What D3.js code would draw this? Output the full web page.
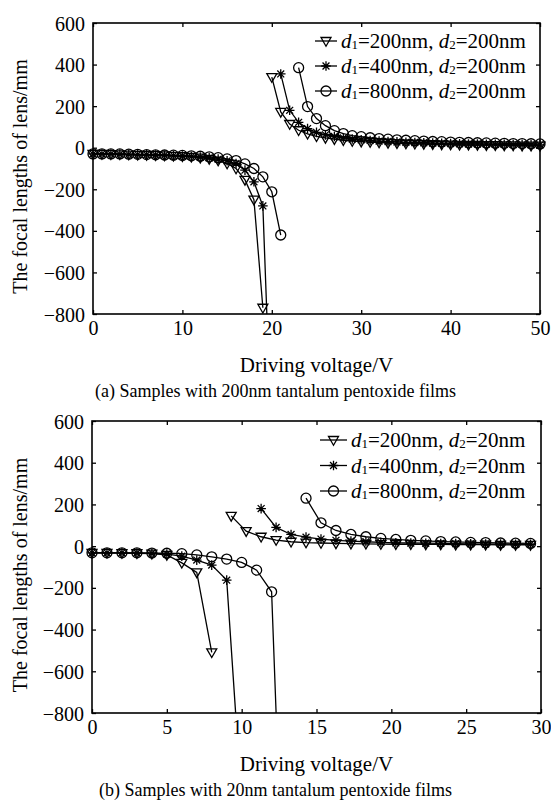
<!DOCTYPE html>
<html>
<head>
<meta charset="utf-8">
<script src="https://cdn.jsdelivr.net/npm/d3@7"></script>
<style>
  html, body { margin: 0; padding: 0; background: #fff; }
  svg { display: block; }
  text { font-family: "Liberation Serif", "Times New Roman", serif; fill: #000; }
</style>
</head>
<body>
<svg id="chart" width="551" height="807"></svg>
<script>
// ---- panel (a): 200nm films ----
const topNegVolts = [0,1,2,3,4,5,6,7,8,9,10,11,12,13,14,15,16,17,18,19,20,21];
const topTriNeg  = [-30,-30,-31,-32,-33,-34,-35,-36,-37,-39,-41,-44,-48,-54,-62,-76,-100,-155,-250,-770];
const topStarNeg = [-30,-30,-30,-31,-32,-33,-34,-35,-36,-38,-40,-42,-45,-49,-55,-63,-76,-108,-164,-280,-1450];
const topCircNeg = [-30,-30,-30,-30,-31,-32,-33,-34,-35,-36,-37,-39,-41,-44,-48,-54,-62,-78,-100,-140,-212,-420];

const topPosVolts = [20,21,22,23,24,25,26,27,28,29,30,31,32,33,34,35,36,37,38,39,40,41,42,43,44,45,46,47,48,49,50];
const topTriPos  = [340,172,114,84,67,55,47,41,36,32,29,27,25,23,21,20,19,18,17,16,15,14,14,13,12,12,11,11,10,10,10];
const topStarPos = [355,180,122,92,74,62,54,47,42,38,35,32,30,28,26,25,24,22,21,20,19,18,18,17,16,16,15,15,14,14];
const topCircPos = [385,198,140,106,82,68,58,53,48,44,41,38,36,34,32,30,29,27,26,25,24,23,22,21,20,20,19,18];

// ---- panel (b): 20nm films ----
const botNegVolts = [0,1,2,3,4,5,6,7,8,9,10,11,12,13];
const botTriNeg  = [-32,-32,-33,-34,-36,-42,-80,-126,-509];
const botStarNeg = [-32,-32,-32,-33,-34,-38,-48,-67,-91,-163,-1230];
const botCircNeg = [-32,-32,-32,-32,-33,-34,-36,-42,-51,-62,-78,-115,-219,-2150];

const botPosVolts = [9.3,10.3,11.3,12.3,13.3,14.3,15.3,16.3,17.3,18.3,19.3,20.3,21.3,22.3,23.3,24.3,25.3,26.3,27.3,28.3,29.3];
const botTriPos  = [145,72,45,29,21,17,15,13,12,11,10,9,9,8,8,7,7,7,6,6,6];
const botStarPos = [180,90,56,43,34,28,24,21,18,16,15,14,13,12,11,10,10,9,9];
const botCircPos = [230,112,75,56,45,37,32,28,25,22,20,18,17,15,14,13];

const yTickValues = [-800,-600,-400,-200,0,200,400,600];
const topXTicks = [0,10,20,30,40,50];
const botXTicks = [0,5,10,15,20,25,30];

function pairs(volts, values) {
  return values.map((v, i) => [volts[i], v]);
}
function pairsFrom(volts, start, values) {
  const i0 = volts.indexOf(start);
  return values.map((v, i) => [volts[i0 + i], v]);
}

const panels = [
  {
    id: 'a',
    box: { left: 93, right: 540, top: 23, bottom: 314 },
    xDomain: [0, 50], xTicks: topXTicks,
    caption: '(a) Samples with 200nm tantalum pentoxide films',
    d2: '200nm',
    legend: { x1: 315, x2: 337, tx: 341, y0: 41, dy: 25 },
    series: [
      { kind: 'tri',  d1: '200nm', parts: [pairs(topNegVolts, topTriNeg),  pairsFrom(topPosVolts, 20, topTriPos)] },
      { kind: 'star', d1: '400nm', parts: [pairs(topNegVolts, topStarNeg), pairsFrom(topPosVolts, 21, topStarPos)] },
      { kind: 'circ', d1: '800nm', parts: [pairs(topNegVolts, topCircNeg), pairsFrom(topPosVolts, 23, topCircPos)] }
    ]
  },
  {
    id: 'b',
    box: { left: 92, right: 541, top: 421, bottom: 713 },
    xDomain: [0, 30], xTicks: botXTicks,
    caption: '(b) Samples with 20nm tantalum pentoxide films',
    d2: '20nm',
    legend: { x1: 320, x2: 347, tx: 351, y0: 440, dy: 25.5 },
    series: [
      { kind: 'tri',  d1: '200nm', parts: [pairs(botNegVolts, botTriNeg),  pairsFrom(botPosVolts, 9.3, botTriPos)] },
      { kind: 'star', d1: '400nm', parts: [pairs(botNegVolts, botStarNeg), pairsFrom(botPosVolts, 11.3, botStarPos)] },
      { kind: 'circ', d1: '800nm', parts: [pairs(botNegVolts, botCircNeg), pairsFrom(botPosVolts, 14.3, botCircPos)] }
    ]
  }
];

const svg = d3.select('#chart');
svg.append('rect').attr('width', 551).attr('height', 807).attr('fill', '#fff');

const TICK_FONT = 20, LABEL_FONT = 21, CAPTION_FONT = 18;
const fmt = d => (d < 0 ? '\u2212' + Math.abs(d) : String(d));

function drawMarker(g, kind, x, y) {
  const s = g.append('g').attr('transform', `translate(${x},${y})`)
    .attr('fill', 'none').attr('stroke', '#000').attr('stroke-width', 1.3);
  if (kind === 'tri') {
    s.append('path').attr('d', 'M-5,-3.5L5,-3.5L0,5.2Z');
  } else if (kind === 'circ') {
    s.append('circle').attr('r', 5);
  } else {
    const r = 4.8, q = r * 0.72;
    s.append('path').attr('d',
      `M0,${-r}V${r}M${-r},0H${r}M${-q},${-q}L${q},${q}M${-q},${q}L${q},${-q}`);
  }
}

panels.forEach(p => {
  const { left, right, top, bottom } = p.box;
  const x = d3.scaleLinear().domain(p.xDomain).range([left, right]);
  const y = d3.scaleLinear().domain([-800, 600]).range([bottom, top]);
  const g = svg.append('g').attr('class', 'panel-' + p.id);

  const clipId = 'clip-' + p.id;
  g.append('clipPath').attr('id', clipId)
    .append('rect').attr('x', left - 7).attr('y', top - 7)
    .attr('width', right - left + 14).attr('height', bottom - top + 7);

  // data
  const plot = g.append('g').attr('clip-path', `url(#${clipId})`);
  const line = d3.line().x(d => x(d[0])).y(d => y(d[1]));
  p.series.forEach(s => {
    s.parts.forEach(part => {
      plot.append('path').datum(part).attr('d', line)
        .attr('fill', 'none').attr('stroke', '#000').attr('stroke-width', 1.3);
      part.forEach(d => {
        if (d[1] >= -800) drawMarker(plot, s.kind, x(d[0]), y(d[1]));
      });
    });
  });

  // axes (ticks inside, mirrored on all sides)
  const tl = 4;
  const axB = g.append('g').attr('transform', `translate(0,${bottom})`)
    .call(d3.axisBottom(x).tickValues(p.xTicks).tickSize(-tl).tickPadding(7).tickFormat(fmt));
  const axT = g.append('g').attr('transform', `translate(0,${top})`)
    .call(d3.axisTop(x).tickValues(p.xTicks).tickSize(-tl).tickFormat(''));
  const axL = g.append('g').attr('transform', `translate(${left},0)`)
    .call(d3.axisLeft(y).tickValues(yTickValues).tickSize(-tl).tickPadding(8).tickFormat(fmt));
  const axR = g.append('g').attr('transform', `translate(${right},0)`)
    .call(d3.axisRight(y).tickValues(yTickValues).tickSize(-tl).tickFormat(''));
  [axB, axT, axL, axR].forEach(a => {
    a.select('.domain').remove();
    a.selectAll('line').attr('stroke', '#000').attr('stroke-width', 1.3);
    a.selectAll('text').style('font-size', TICK_FONT + 'px').attr('font-family', null).attr('fill', '#000');
  });
  axB.selectAll('text').attr('dy', '0.71em');
  axL.selectAll('text').attr('dy', '0.35em');

  g.append('rect').attr('x', left).attr('y', top)
    .attr('width', right - left).attr('height', bottom - top)
    .attr('fill', 'none').attr('stroke', '#000').attr('stroke-width', 1.6);

  // labels
  g.append('text').attr('x', (left + right) / 2).attr('y', bottom + 51)
    .attr('text-anchor', 'middle').attr('dominant-baseline', 'central')
    .style('font-size', LABEL_FONT + 'px').text('Driving voltage/V');
  g.append('text').attr('x', 551 / 2).attr('y', bottom + 77)
    .attr('text-anchor', 'middle').attr('dominant-baseline', 'central')
    .style('font-size', CAPTION_FONT + 'px').text(p.caption);
  g.append('text')
    .attr('transform', `translate(20,${(top + bottom) / 2 + 8}) rotate(-90)`)
    .attr('text-anchor', 'middle').attr('dominant-baseline', 'central')
    .style('font-size', TICK_FONT + 'px').text('The focal lengths of lens/mm');

  // legend
  const L = p.legend;
  p.series.forEach((s, i) => {
    const ly = L.y0 + i * L.dy;
    g.append('line').attr('x1', L.x1).attr('x2', L.x2).attr('y1', ly).attr('y2', ly)
      .attr('stroke', '#000').attr('stroke-width', 1.3);
    drawMarker(g, s.kind, (L.x1 + L.x2) / 2, ly);
    const t = g.append('text').attr('x', L.tx).attr('y', ly)
      .attr('dominant-baseline', 'central').style('font-size', LABEL_FONT + 'px');
    t.append('tspan').attr('font-style', 'italic').text('d');
    t.append('tspan').attr('baseline-shift', '-25%').style('font-size', '13px').text('1');
    t.append('tspan').text('=' + s.d1 + ', ');
    t.append('tspan').attr('font-style', 'italic').text('d');
    t.append('tspan').attr('baseline-shift', '-25%').style('font-size', '13px').text('2');
    t.append('tspan').text('=' + p.d2);
  });
});
</script>
</body>
</html>
